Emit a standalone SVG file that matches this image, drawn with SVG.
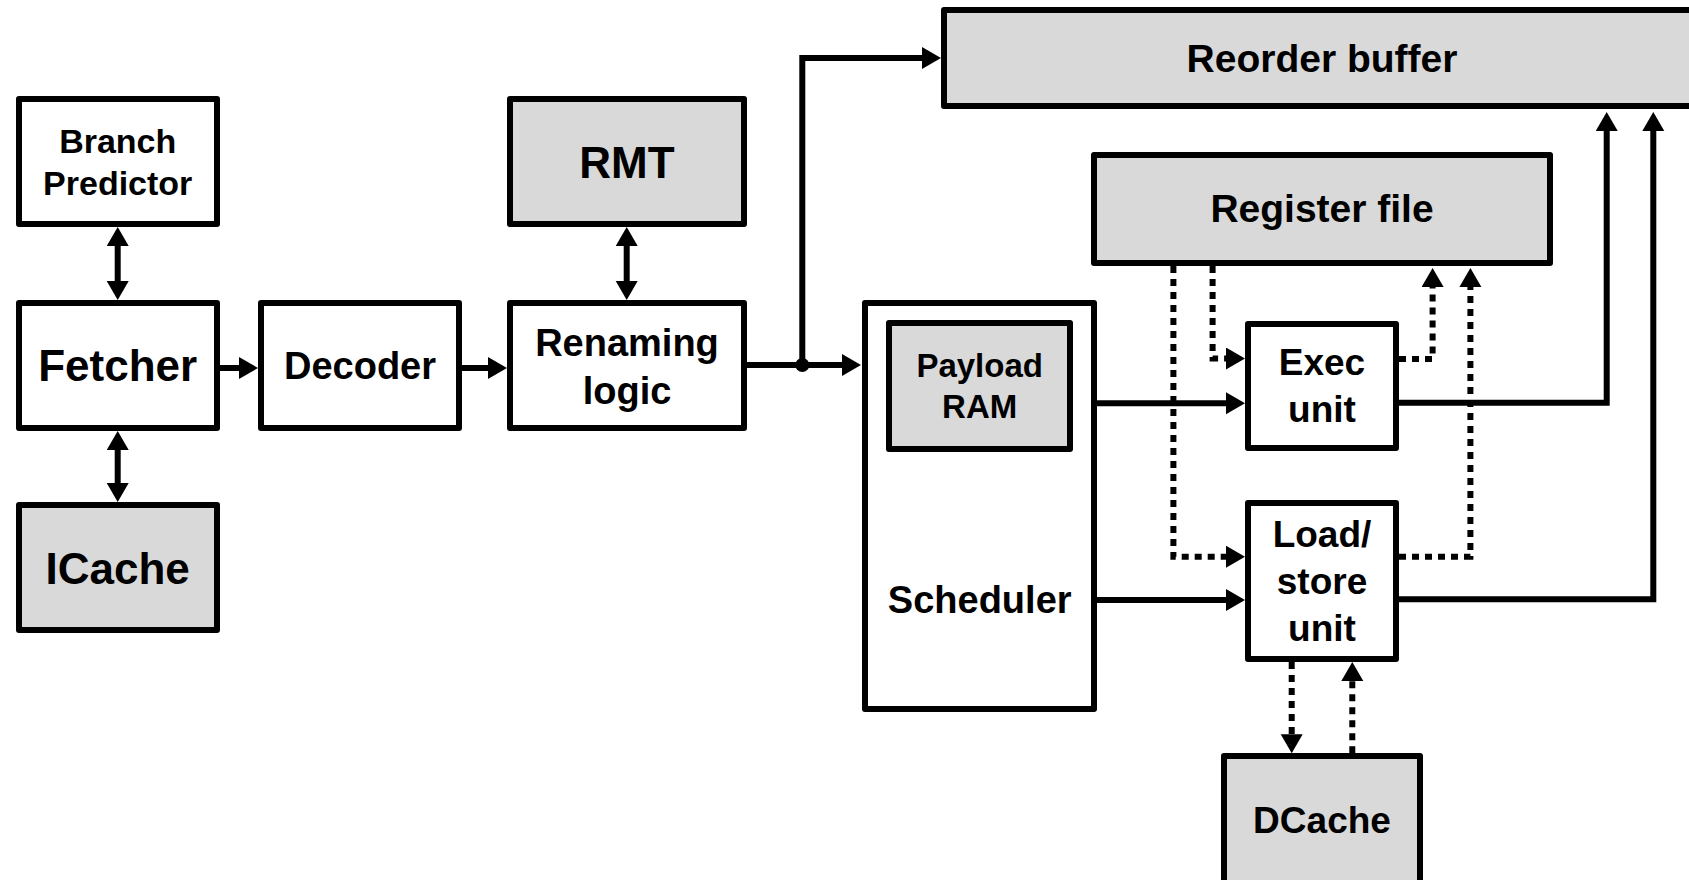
<svg xmlns="http://www.w3.org/2000/svg" width="1689" height="880" viewBox="0 0 1689 880">
  <style>
    .box { stroke: #000; stroke-width: 6; stroke-linejoin: round; }
    .white { fill: #ffffff; }
    .gray { fill: #d9d9d9; }
    .lbl { font-family: "Liberation Sans", Arial, sans-serif; font-weight: bold; fill: #000; text-anchor: middle; }
    .wire { fill: none; stroke: #000; stroke-width: 6; stroke-linejoin: miter; }
    .dot { stroke-dasharray: 7 6; }
  </style>
  <defs>
    <marker id="head" markerUnits="userSpaceOnUse" markerWidth="20" markerHeight="24" refX="0" refY="11" orient="auto-start-reverse">
      <path d="M0,0 L19,11 L0,22 z" fill="#000"/>
    </marker>
  </defs>

  <rect x="0" y="0" width="1689" height="880" fill="#ffffff"/>

  <!-- connectors -->
  <g id="connectors">
    <!-- bidirectional links -->
    <path class="wire" d="M117.7,246 V281" marker-start="url(#head)" marker-end="url(#head)"/>
    <path class="wire" d="M117.7,450 V483" marker-start="url(#head)" marker-end="url(#head)"/>
    <path class="wire" d="M626.7,246 V281" marker-start="url(#head)" marker-end="url(#head)"/>
    <!-- front-end pipeline -->
    <path class="wire" d="M217,368 H239" marker-end="url(#head)"/>
    <path class="wire" d="M459,368 H488" marker-end="url(#head)"/>
    <path class="wire" d="M744,365 H842" marker-end="url(#head)"/>
    <circle cx="802.3" cy="365" r="7" fill="#000"/>
    <path class="wire" d="M802.3,365 V58 H922" marker-end="url(#head)"/>
    <!-- issue -->
    <path class="wire" d="M1094,403.3 H1226" marker-end="url(#head)"/>
    <path class="wire" d="M1094,600 H1226" marker-end="url(#head)"/>
    <!-- completion to reorder buffer -->
    <path class="wire" d="M1396,402.7 H1606.7 V131" marker-end="url(#head)"/>
    <path class="wire" d="M1396,599.3 H1653.3 V131" marker-end="url(#head)"/>
    <!-- operand reads (dotted) -->
    <path class="wire dot" d="M1173.4,266 V556.7 H1226" marker-end="url(#head)"/>
    <path class="wire dot" d="M1212.6,266 V358.5 H1226" marker-end="url(#head)"/>
    <!-- result writes (dotted) -->
    <path class="wire dot" d="M1399,359 H1432.6 V287" marker-end="url(#head)"/>
    <path class="wire dot" d="M1399,556.7 H1470.4 V287" marker-end="url(#head)"/>
    <!-- memory access (dotted) -->
    <path class="wire dot" d="M1291.7,662 V734.3" marker-end="url(#head)"/>
    <path class="wire dot" d="M1352.3,753.3 V681" marker-end="url(#head)"/>
  </g>

  <g id="branch-predictor">
    <rect class="box white" x="19" y="99" width="198" height="125"/>
    <text class="lbl" x="117.7" y="153.3" font-size="34">Branch</text>
    <text class="lbl" x="117.7" y="195" font-size="34">Predictor</text>
  </g>

  <g id="fetcher">
    <rect class="box white" x="19" y="303" width="198" height="125"/>
    <text class="lbl" x="117.7" y="381" font-size="44">Fetcher</text>
  </g>

  <g id="icache">
    <rect class="box gray" x="19" y="505" width="198" height="125"/>
    <text class="lbl" x="117.7" y="584" font-size="44">ICache</text>
  </g>

  <g id="decoder">
    <rect class="box white" x="261" y="303" width="198" height="125"/>
    <text class="lbl" x="360" y="379" font-size="38">Decoder</text>
  </g>

  <g id="rmt">
    <rect class="box gray" x="510" y="99" width="234" height="125"/>
    <text class="lbl" x="627" y="178.3" font-size="44">RMT</text>
  </g>

  <g id="renaming-logic">
    <rect class="box white" x="510" y="303" width="234" height="125"/>
    <text class="lbl" x="627" y="356" font-size="38">Renaming</text>
    <text class="lbl" x="627" y="404" font-size="38">logic</text>
  </g>

  <g id="reorder-buffer">
    <rect class="box gray" x="944" y="10" width="800" height="96"/>
    <text class="lbl" x="1322" y="71.7" font-size="39">Reorder buffer</text>
  </g>

  <g id="register-file">
    <rect class="box gray" x="1094" y="155" width="456" height="108"/>
    <text class="lbl" x="1322" y="221.7" font-size="39">Register file</text>
  </g>

  <g id="scheduler">
    <rect class="box white" x="865" y="303" width="229" height="406"/>
    <text class="lbl" x="979.7" y="613.3" font-size="38">Scheduler</text>
  </g>

  <g id="payload-ram">
    <rect class="box gray" x="889" y="323" width="181" height="126"/>
    <text class="lbl" x="979.7" y="376.7" font-size="33">Payload</text>
    <text class="lbl" x="979.7" y="418.3" font-size="33">RAM</text>
  </g>

  <g id="exec-unit">
    <rect class="box white" x="1248" y="324" width="148" height="124"/>
    <text class="lbl" x="1322" y="375" font-size="37">Exec</text>
    <text class="lbl" x="1322" y="422" font-size="37">unit</text>
  </g>

  <g id="load-store-unit">
    <rect class="box white" x="1248" y="503" width="148" height="156"/>
    <text class="lbl" x="1322" y="546.7" font-size="37">Load/</text>
    <text class="lbl" x="1322" y="594" font-size="37">store</text>
    <text class="lbl" x="1322" y="641" font-size="37">unit</text>
  </g>

  <g id="dcache">
    <rect class="box gray" x="1224" y="756" width="196" height="200"/>
    <text class="lbl" x="1322" y="832.7" font-size="37">DCache</text>
  </g>
</svg>
